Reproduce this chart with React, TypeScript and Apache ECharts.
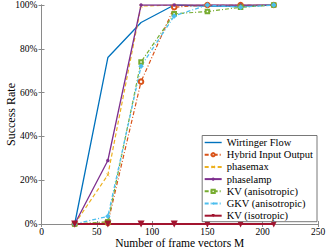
import React, { useEffect, useRef } from "react";
import * as echarts from "echarts";

const xValues = [30, 60, 90, 120, 150, 180, 210];
const seriesNames = [
  "Wirtinger Flow",
  "Hybrid Input Output",
  "phasemax",
  "phaselamp",
  "KV (anisotropic)",
  "GKV (anisotropic)",
  "KV (isotropic)",
];
const wirtinger = [0, 76, 92, 100, 99.5, 99.5, 100];
const hio = [0, 0.5, 65, 99, 100, 100, 100];
const phasemax = [0, 22.4, 99.5, 100, 100, 100, 100];
const phaselamp = [0, 29, 100, 100, 100, 100, 100];
const kvAniso = [0, 1, 74, 96, 97, 99, 100];
const gkvAniso = [0, 3.5, 72, 95, 100, 99, 100];
const kvIso = [0, 0, 0, 0, 0, 0, 0];
const xTicks = [0, 50, 100, 150, 200, 250];
const yTicks = [0, 20, 40, 60, 80, 100];

const FONT = "Liberation Serif";
const AXIS = "#8a8a8a";

export default function App() {
  const ref = useRef<HTMLDivElement>(null);
  useEffect(() => {
    if (!ref.current) return;
    const chart = echarts.init(ref.current, null, { renderer: "svg" });
    const pair = (ys: number[]) => xValues.map((x, i) => [x, ys[i]]);
    const xMark = "path://M0,1L1,0L5,4L9,0L10,1L6,5L10,9L9,10L5,6L1,10L0,9L4,5Z";
    const lineIcon = "path://M0,0L17,0L17,1.4L0,1.4Z";
    const common = { type: "line", showSymbol: true, z: 3 };
    chart.setOption({
      animation: false,
      grid: { left: 41.5, right: 9, top: 5, bottom: 26, containLabel: false, outerBoundsMode: "none" },
      xAxis: [
        {
          type: "value",
          min: xTicks[0],
          max: xTicks[xTicks.length - 1],
          interval: 50,
          name: "Number of frame vectors M",
          nameLocation: "middle",
          nameGap: 13.5,
          nameMoveOverlap: false,
          nameTextStyle: { fontFamily: FONT, fontSize: 11.5, color: "#000", lineHeight: 11.5 },
          axisLine: { show: true, lineStyle: { color: AXIS, width: 1 } },
          axisTick: { show: true, inside: true, length: 3, lineStyle: { color: AXIS } },
          axisLabel: { fontFamily: FONT, fontSize: 9.5, color: "#000", margin: 3, lineHeight: 9 },
          splitLine: { show: false },
        },
        {
          type: "value",
          position: "top",
          min: xTicks[0],
          max: xTicks[xTicks.length - 1],
          interval: 50,
          axisLine: { show: true, lineStyle: { color: AXIS, width: 1 } },
          axisTick: { show: true, inside: true, length: 3, lineStyle: { color: AXIS } },
          axisLabel: { show: false },
          splitLine: { show: false },
        },
      ],
      yAxis: [
        {
          type: "value",
          min: yTicks[0],
          max: yTicks[yTicks.length - 1],
          interval: 20,
          name: "Success Rate",
          nameLocation: "middle",
          nameGap: 25,
          nameMoveOverlap: false,
          nameTextStyle: { fontFamily: FONT, fontSize: 12, color: "#000" },
          axisLine: { show: true, lineStyle: { color: AXIS, width: 1 } },
          axisTick: { show: true, inside: true, length: 3, lineStyle: { color: AXIS } },
          axisLabel: { fontFamily: FONT, fontSize: 9.5, color: "#000", margin: 4, formatter: "{value}%" },
          splitLine: { show: false },
        },
        {
          type: "value",
          position: "right",
          min: yTicks[0],
          max: yTicks[yTicks.length - 1],
          interval: 20,
          axisLine: { show: true, lineStyle: { color: AXIS, width: 1 } },
          axisTick: { show: true, inside: true, length: 3, lineStyle: { color: AXIS } },
          axisLabel: { show: false },
          splitLine: { show: false },
        },
      ],
      legend: {
        orient: "vertical",
        right: 10,
        top: 135.5,
        itemWidth: 17,
        itemHeight: 4,
        itemGap: 1.2,
        padding: [1.5, 4, 0.5, 1.5],
        borderColor: "#555",
        borderWidth: 0.8,
        backgroundColor: "#fff",
        textStyle: { fontFamily: FONT, fontSize: 10.5, color: "#000", lineHeight: 10 },
        data: [{ name: seriesNames[0], icon: lineIcon }, ...seriesNames.slice(1)],
      },
      series: [
        {
          ...common,
          name: seriesNames[0],
          data: pair(wirtinger),
          symbol: "none",
          color: "#0072BD",
          lineStyle: { width: 1.3, color: "#0072BD" },
        },
        {
          ...common,
          name: seriesNames[1],
          data: pair(hio),
          symbol: "emptyCircle",
          symbolSize: 4.5,
          color: "#D95319",
          itemStyle: { color: "#D95319", borderColor: "#D95319", borderWidth: 1 },
          lineStyle: { width: 1.2, color: "#D95319", type: [4, 2, 1, 2] },
        },
        {
          ...common,
          name: seriesNames[2],
          data: pair(phasemax),
          symbol: xMark,
          symbolSize: 3.5,
          color: "#EDB120",
          itemStyle: { color: "#EDB120" },
          lineStyle: { width: 1.2, color: "#EDB120", type: [4, 2.5] },
        },
        {
          ...common,
          name: seriesNames[3],
          data: pair(phaselamp),
          symbol: "circle",
          symbolSize: 3.5,
          color: "#7E2F8E",
          itemStyle: { color: "#7E2F8E" },
          lineStyle: { width: 1.3, color: "#7E2F8E" },
        },
        {
          ...common,
          name: seriesNames[4],
          data: pair(kvAniso),
          symbol: "emptyRect",
          symbolSize: 3.5,
          color: "#77AC30",
          itemStyle: { color: "#77AC30", borderColor: "#77AC30", borderWidth: 1 },
          lineStyle: { width: 1.2, color: "#77AC30", type: [4, 2, 1, 2] },
        },
        {
          ...common,
          name: seriesNames[5],
          data: pair(gkvAniso),
          symbol: "diamond",
          symbolSize: 5.5,
          color: "#4DBEEE",
          itemStyle: { color: "#4DBEEE" },
          lineStyle: { width: 1.3, color: "#4DBEEE", type: [4, 2, 1, 2] },
        },
        {
          ...common,
          name: seriesNames[6],
          data: pair(kvIso),
          symbol: "triangle",
          symbolRotate: 180,
          symbolSize: 7,
          color: "#A2142F",
          itemStyle: { color: "#A2142F" },
          lineStyle: { width: 2, color: "#A2142F" },
        },
      ],
    });
    return () => chart.dispose();
  }, []);
  return <div ref={ref} style={{ width: 327, height: 250, position: "absolute", left: 0, top: 0 }} />;
}
